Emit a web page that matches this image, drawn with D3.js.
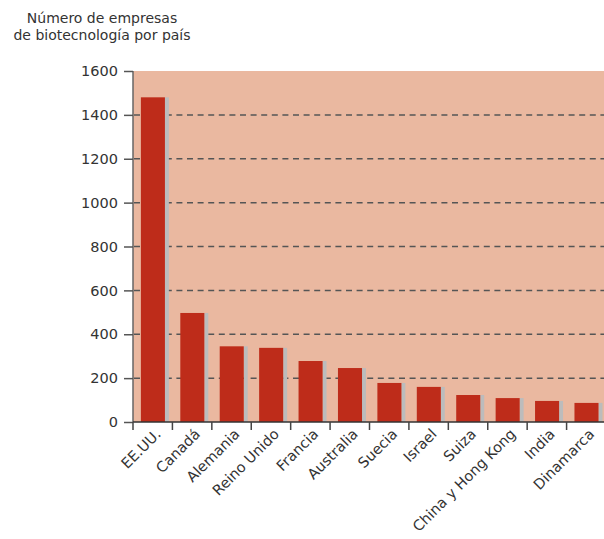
<!DOCTYPE html>
<html>
<head>
<meta charset="utf-8">
<script src="https://cdn.jsdelivr.net/npm/d3@7"></script>
<style>
  body { margin: 0; background: #fff; }
  text { font-family: "DejaVu Sans", sans-serif; fill: #333; }
</style>
</head>
<body>
<div id="chart"></div>
<script>
// data
var countries = ["EE.UU.", "Canadá", "Alemania", "Reino Unido", "Francia", "Australia",
                 "Suecia", "Israel", "Suiza", "China y Hong Kong", "India", "Dinamarca"];
var companies = [1480, 497, 345, 338, 278, 246, 178, 160, 123, 109, 96, 87];
var yTicks = [0, 200, 400, 600, 800, 1000, 1200, 1400, 1600];
var titleLines = ["Número de empresas", "de biotecnología por país"];

var width = 604, height = 539;
var margin = {top: 71, left: 133, bottom: 117};
var plotRight = 606;

var svg = d3.select("#chart")
    .append("svg")
    .attr("width", width)
    .attr("height", height);

var x = d3.scaleBand()
    .domain(countries)
    .range([margin.left, plotRight])
    .padding(0);

var y = d3.scaleLinear()
    .domain([0, 1600])
    .range([height - margin.bottom, margin.top]);

// pink plot background
svg.append("rect")
    .attr("x", margin.left)
    .attr("y", y(1600))
    .attr("width", width - margin.left)
    .attr("height", y(0) - y(1600))
    .style("fill", "#eab8a0");

// dashed gridlines
svg.selectAll("gridLines")
    .data(yTicks.filter(function(d) { return d > 0 && d < 1600; }))
    .enter()
    .append("line")
    .attr("x1", margin.left + 1)
    .attr("x2", width)
    .attr("y1", function(d) { return y(d); })
    .attr("y2", function(d) { return y(d); })
    .attr("stroke", "#555")
    .attr("stroke-width", 1.5)
    .attr("stroke-dasharray", "6,4.6");

var step = x.step();

// grey shadow behind each bar
svg.selectAll("shadows")
    .data(companies)
    .enter()
    .append("rect")
    .attr("x", function(d, i) { return x(countries[i]) + step * 0.2 + step * 0.61; })
    .attr("y", function(d) { return y(d); })
    .attr("width", step * 0.1)
    .attr("height", function(d) { return y(0) - y(d); })
    .style("fill", "#bcbcbc");

// red bars
svg.selectAll("bars")
    .data(companies)
    .enter()
    .append("rect")
    .attr("x", function(d, i) { return x(countries[i]) + step * 0.2; })
    .attr("y", function(d) { return y(d); })
    .attr("width", step * 0.61)
    .attr("height", function(d) { return y(0) - y(d); })
    .style("fill", "#be2c1a");

// y axis
var yAxis = svg.append("g")
    .attr("transform", "translate(" + margin.left + ",0)")
    .call(d3.axisLeft(y).tickValues(yTicks).tickSize(9).tickPadding(6).tickFormat(d3.format("d")));
yAxis.select(".domain").attr("stroke", "#666").attr("stroke-width", 1.5)
    .attr("d", "M0," + y(1600) + "V" + y(0));
yAxis.selectAll(".tick line").attr("stroke", "#555").attr("stroke-width", 1.5);
yAxis.selectAll(".tick text").style("font-size", "14.5px").style("fill", "#333");

// x axis: ticks between the categories
var xAxisG = svg.append("g")
    .attr("transform", "translate(0," + y(0) + ")");
xAxisG.append("line")
    .attr("x1", margin.left)
    .attr("x2", width)
    .attr("stroke", "#333")
    .attr("stroke-width", 1.5);
xAxisG.selectAll("xTicks")
    .data(countries)
    .enter()
    .append("line")
    .attr("x1", function(d) { return x(d); })
    .attr("x2", function(d) { return x(d); })
    .attr("y1", 0)
    .attr("y2", 8)
    .attr("stroke", "#444")
    .attr("stroke-width", 1.5);

xAxisG.selectAll("xLabels")
    .data(countries)
    .enter()
    .append("text")
    .attr("transform", function(d) {
        return "translate(" + (x(d) + x.bandwidth() / 2 + 9) + ",13) rotate(-45)";
    })
    .attr("text-anchor", "end")
    .style("font-size", "14.5px")
    .text(function(d) { return d; });

// title
svg.selectAll("titleLines")
    .data(titleLines)
    .enter()
    .append("text")
    .attr("x", 102)
    .attr("y", function(d, i) { return 23 + i * 17; })
    .attr("text-anchor", "middle")
    .style("font-size", "14px")
    .text(function(d) { return d; });
</script>
</body>
</html>
